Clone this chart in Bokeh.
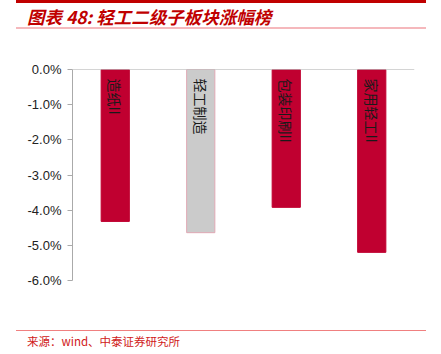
import math
from bokeh.plotting import figure
from bokeh.models import ColumnDataSource, Span, FixedTicker, CustomJSTickFormatter, Div
from bokeh.layouts import column
from bokeh.core.properties import value
from bokeh.embed import file_html
from bokeh.resources import INLINE

categories = ["造纸II", "轻工制造", "包装印刷II", "家用轻工II"]
values = [-4.32, -4.64, -3.92, -5.20]
colors = ["#C00030", "#CBCBCB", "#C00030", "#C00030"]
outline = ["#C00030", "#E0A8B4", "#C00030", "#C00030"]
y_ticks = [0, -1, -2, -3, -4, -5, -6]

title_text = "图表 48: 轻工二级子板块涨幅榜"
source_text = "来源：wind、中泰证券研究所"

src = ColumnDataSource(dict(x=categories, top=[0] * 4, bottom=values, color=colors, line=outline, label=categories, ly=[0] * 4))

p = figure(width=441, height=290, x_range=categories, y_range=(-6, 0),
           output_backend="svg", toolbar_location=None,
           min_border_left=72, min_border_right=27, min_border_top=37, min_border_bottom=42)
p.outline_line_color = None
p.xgrid.visible = False
p.ygrid.visible = False
p.background_fill_color = "white"

p.vbar(x="x", top="top", bottom="bottom", width=0.33, fill_color="color", line_color="line", line_width=1, source=src)

p.text(x="x", y="ly", text="label", source=src, angle=-math.pi / 2, y_offset=9,
       text_align="left", text_baseline="middle", text_font=value("Noto Sans CJK SC"),
       text_font_size="14px", text_color="#1A1A1A")

p.yaxis.ticker = FixedTicker(ticks=y_ticks)
p.yaxis.formatter = CustomJSTickFormatter(code="return tick.toFixed(1) + '%';")
p.yaxis.axis_line_color = "#AAAAAA"
p.yaxis.major_tick_line_color = "#AAAAAA"
p.yaxis.major_tick_in = 0
p.yaxis.major_tick_out = 5
p.yaxis.minor_tick_line_color = None
p.yaxis.major_label_standoff = 6
p.yaxis.major_label_text_font = "Liberation Sans"
p.yaxis.major_label_text_font_size = "13px"
p.yaxis.major_label_text_color = "#222222"

p.xaxis.visible = False
p.add_layout(Span(location=0, dimension="width", line_color="#AAAAAA", line_width=1))

header = Div(width=441, height=32, margin=0, text=(
    '<div style="position:relative;width:441px;height:32px;">'
    '<div style="position:absolute;left:16px;top:0px;width:410px;height:2.5px;background:#C00000;"></div>'
    '<div style="position:absolute;left:27px;top:17px;transform:translateY(-50%);white-space:nowrap;'
    "font-family:'Noto Sans CJK SC';font-size:17.5px;font-weight:bold;font-style:italic;color:#C00000;line-height:1;\">"
    + title_text + '</div>'
    '<div style="position:absolute;left:16px;top:26.5px;width:410px;height:2px;background:#F5B8BC;"></div>'
    '</div>'))

footer = Div(width=441, height=32, margin=0, text=(
    '<div style="position:relative;width:441px;height:32px;">'
    '<div style="position:absolute;left:16px;top:7.5px;width:410px;height:1px;background:#F08080;"></div>'
    '<div style="position:absolute;left:27px;top:20px;transform:translateY(-50%);white-space:nowrap;'
    "font-family:'Noto Sans CJK SC';font-size:11.5px;color:#D02020;line-height:1;\">"
    + source_text + '</div>'
    '</div>'))

layout = column(header, p, footer, spacing=0, margin=0)

open("out.html", "w").write(file_html(layout, INLINE))
